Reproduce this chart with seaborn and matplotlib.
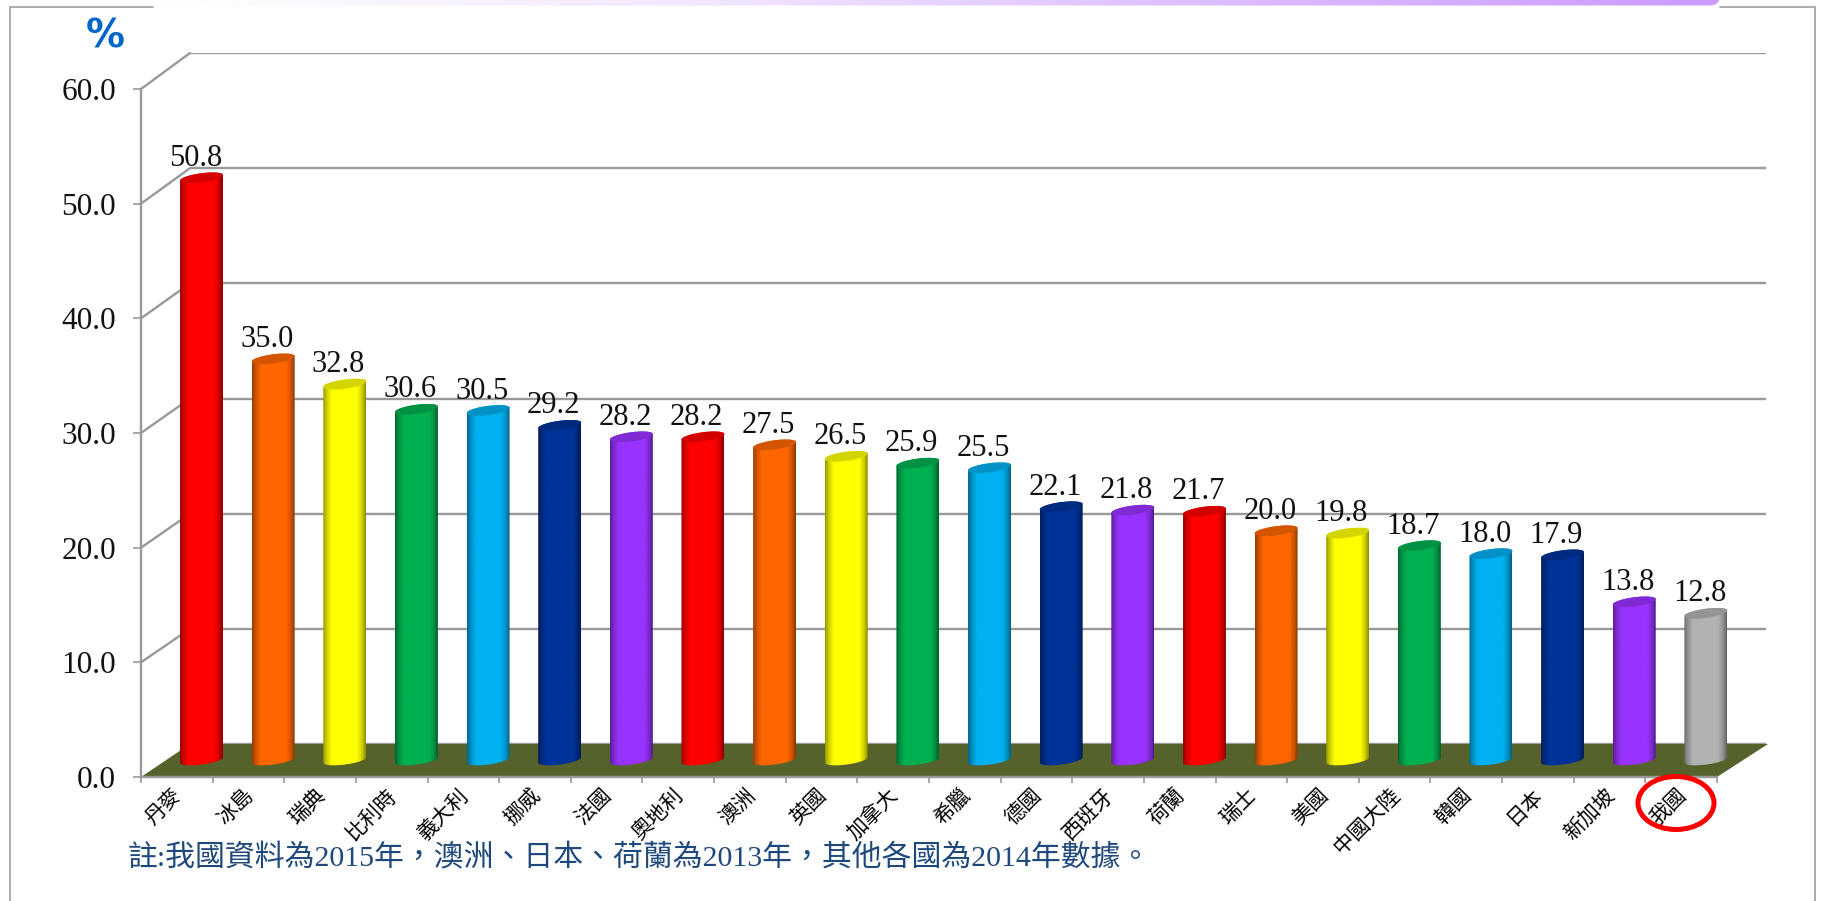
import numpy as np
import seaborn as sns
import matplotlib.pyplot as plt
from matplotlib.colors import LinearSegmentedColormap, to_rgb
from matplotlib.patches import Ellipse, FancyBboxPatch, Polygon
from matplotlib.transforms import ScaledTranslation

# Data
countries = ['丹麥', '冰島', '瑞典', '比利時', '義大利', '挪威', '法國', '奧地利', '澳洲', '英國', '加拿大',
             '希臘', '德國', '西班牙', '荷蘭', '瑞士', '美國', '中國大陸', '韓國', '日本', '新加坡', '我國']
values = [50.8, 35.0, 32.8, 30.6, 30.5, 29.2, 28.2, 28.2, 27.5, 26.5, 25.9,
          25.5, 22.1, 21.8, 21.7, 20.0, 19.8, 18.7, 18.0, 17.9, 13.8, 12.8]
bar_colors = ['#FF0000', '#FF6600', '#FFFF00', '#00B050', '#00B0F0', '#003399', '#9933FF',
              '#FF0000', '#FF6600', '#FFFF00', '#00B050', '#00B0F0', '#003399', '#9933FF',
              '#FF0000', '#FF6600', '#FFFF00', '#00B050', '#00B0F0', '#003399', '#9933FF', '#B2B2B2']
y_ticks = [0, 10, 20, 30, 40, 50, 60]
note = '註:我國資料為2015年，澳洲、日本、荷蘭為2013年，其他各國為2014年數據。'

W, H = 1825, 901
GRID = '#999999'
SERIF = ['Liberation Serif', 'Noto Sans CJK TC']

sns.set_style('white')
plt.rcParams['font.family'] = SERIF


def add_px_axes(fig, left, right, top, bottom, **kw):
    # axes from pixel box, y counted from the top of the image
    return fig.add_axes([left / W, 1 - bottom / H, (right - left) / W, (bottom - top) / H], **kw)


fig = plt.figure(figsize=(W / 100, H / 100), dpi=100, facecolor='white')

# back wall with the gridlines
ax_back = add_px_axes(fig, 190, 1766, 53, 744, zorder=1)
ax_back.set_xlim(0, 1)
ax_back.set_ylim(0, 60)
ax_back.set_yticks(y_ticks)
ax_back.grid(axis='y', color=GRID, lw=1.7)
ax_back.grid(axis='x', visible=False)
ax_back.tick_params(length=0, labelleft=False, labelbottom=False)
sns.despine(ax=ax_back, left=True, bottom=True)

# front plane: axis lines, ticks and labels
ax_front = add_px_axes(fig, 141, 1717, 89, 777, zorder=3)
ax_front.patch.set_visible(False)
ax_front.set_xlim(-0.5, len(countries) - 0.5)
ax_front.set_ylim(0, 60)
ax_front.set_yticks(y_ticks)
ax_front.set_yticklabels([f'{v:.1f}' for v in y_ticks], fontsize=22.5, color='#111111')
ax_front.set_xticks(range(len(countries)))
ax_front.set_xticklabels(countries, rotation=45, ha='right', va='top', rotation_mode='anchor',
                         fontsize=15, color='black', family=['Noto Sans CJK TC', 'DejaVu Sans'])
ax_front.set_xticks(np.arange(len(countries) + 1) - 0.5, minor=True)
ax_front.tick_params(axis='x', which='major', length=0, pad=5)
ax_front.tick_params(axis='x', which='minor', length=4, width=1.2, color=GRID, bottom=True)
ax_front.tick_params(axis='y', length=6, width=1.2, color=GRID, pad=12, left=True)
shift = ScaledTranslation(-6 / 100, 0, fig.dpi_scale_trans)
for lab in ax_front.get_xticklabels():
    lab.set_transform(lab.get_transform() + shift)
sns.despine(ax=ax_front)
for side in ['left', 'bottom']:
    ax_front.spines[side].set_color(GRID)
    ax_front.spines[side].set_linewidth(1.7)

# floor and the slanted wall edges, between wall and bars
ax_under = add_px_axes(fig, 0, W, 0, H, zorder=1.5)
ax_under.set_xlim(0, W)
ax_under.set_ylim(H, 0)
ax_under.axis('off')
ax_under.add_patch(Polygon([(141, 777), (1717, 777), (1768, 744), (190, 744)], color='#55622B', lw=0))
front_y = np.interp(y_ticks, [0, 60], [777, 89])
back_y = np.interp(y_ticks, [0, 60], [744, 53])
for fy, by in zip(front_y[1:], back_y[1:]):
    ax_under.plot([141, 190], [fy, by], color=GRID, lw=1.7, solid_capstyle='round')

# cylinders: half way between front and back plane
unit = 11.46
y_floor = -2
ax_bars = add_px_axes(fig, 165.7, 1741.7, 760 - 60 * unit, 760 - y_floor * unit, zorder=2)
sns.barplot(x=countries, y=values, hue=countries, palette=bar_colors, legend=False,
            width=0.6, saturation=1, ax=ax_bars)
ax_bars.axis('off')

edge_x = [0, 0.08, 0.2, 0.8, 0.92, 1]
edge_f = [0.6, 0.8, 1, 1, 0.8, 0.55]
t_low = np.linspace(np.pi, 2 * np.pi, 40)
t_up = np.linspace(0, np.pi, 40)
b, s = 0.40, 0.24
for bar, val, col, label in zip(ax_bars.patches, values, bar_colors, [f'{v:.1f}' for v in values]):
    x0, w = bar.get_x(), bar.get_width()
    bar.set_visible(False)
    cx = x0 + w / 2
    rgb = np.array(to_rgb(col))
    shade = np.interp(np.linspace(0, 1, 64), edge_x, edge_f)
    grad = (shade[:, None] * rgb)[None, :, :]
    low = np.c_[cx + w / 2 * np.cos(t_low), b * np.sin(t_low) + s * np.cos(t_low)]
    up = np.c_[cx + w / 2 * np.cos(t_up), val + b * np.sin(t_up) + s * np.cos(t_up)]
    outline = Polygon(np.r_[low, up], transform=ax_bars.transData, fc='none', ec='none')
    ax_bars.add_patch(outline)
    img = ax_bars.imshow(grad, extent=(x0, x0 + w, -2, val + 2), aspect='auto', zorder=3,
                         interpolation='bilinear')
    img.set_clip_path(outline)
    # darker cap on top
    t = np.linspace(0, 2 * np.pi, 80)
    cap = np.c_[cx + w / 2 * np.cos(t), val + b * np.sin(t) + s * np.cos(t)]
    ax_bars.add_patch(Polygon(cap, fc=rgb * 0.83, ec='none', zorder=4))
    ax_bars.annotate(label, (cx, val), xytext=(-4.5, 14), textcoords='offset points',
                     ha='center', va='center', fontsize=22, color='#111111', zorder=5)
ax_bars.set_xlim(-0.5, len(countries) - 0.5)
ax_bars.set_ylim(y_floor, 60)

# frame, banner, circle and texts on top
ax_over = add_px_axes(fig, 0, W, 0, H, zorder=5)
ax_over.set_xlim(0, W)
ax_over.set_ylim(H, 0)
ax_over.axis('off')
frame = dict(color='#A6A6A6', lw=1.3)
ax_over.plot([10, 10], [H, 6.5], **frame)
ax_over.plot([10, 153], [6.5, 6.5], **frame)
ax_over.plot([1720, 1815, 1815], [6.5, 6.5, H], **frame)

banner_cmap = LinearSegmentedColormap.from_list(
    'banner', ['#FFFFFF', '#F3E9FF', '#DDBEFF', '#CB9BFF'])
banner = FancyBboxPatch((153, -30), 1567, 35.5, boxstyle='round,pad=0,rounding_size=10',
                        fc='none', ec='none', transform=ax_over.transData)
ax_over.add_patch(banner)
band = ax_over.imshow(np.linspace(0, 1, 256)[None, :], cmap=banner_cmap, aspect='auto',
                      extent=(153, 1720, 6, 0), zorder=2)
band.set_clip_path(banner)
ax_over.set_xlim(0, W)
ax_over.set_ylim(H, 0)

ax_over.add_patch(Ellipse((1676, 803), 76, 53, fc='none', ec='#FF0000', lw=3.6))
ax_over.text(105, 37, '%', fontsize=28, fontweight='bold', color='#0066CC', ha='center', va='center',
             family='DejaVu Sans')
ax_over.text(128, 858, note, fontsize=21.5, color='#1F497D', ha='left', va='center')

fig.savefig('out.png', dpi=100)
